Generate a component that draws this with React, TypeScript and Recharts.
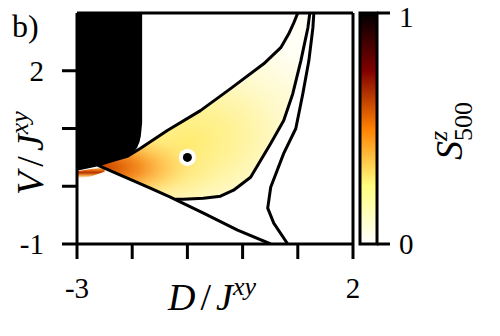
import React from 'react';
import {
  ComposedChart, Area, Line, Scatter, XAxis, YAxis, ReferenceLine,
  BarChart, Bar, Customized,
} from 'recharts';

// ---- axis ticks ----
const xTicks = [-3, -2, -1, 0, 1, 2];
const xTickLabels: Record<number, string> = { [-3]: '-3', 2: '2' };
const yTicks = [-1, 0, 1, 2];
const yTickLabels: Record<number, string> = { [-1]: '-1', 2: '2' };
const cbTicks = [0, 1];
const cbTickLabels: Record<number, string> = { 0: '0', 1: '1' };

// ---- black (S ~ 1) region: [low, high] of V for each D ----
const blackRegion = [
  { d: -3.0, v: [0.27, 3] },
  { d: -2.64, v: [0.34, 3] },
  { d: -2.4, v: [0.41, 3] },
  { d: -2.1, v: [0.52, 3] },
  { d: -1.95, v: [0.62, 3] },
  { d: -1.91, v: [0.67, 3] },
  { d: -1.87, v: [0.76, 3] },
  { d: -1.845, v: [0.86, 3] },
  { d: -1.83, v: [1.0, 3] },
  { d: -1.82, v: [1.1, 3] },
];

// ---- colored lens region ----
const lensRegion = [
  { d: -2.62, v: [0.36, 0.37] },
  { d: -2.4, v: [0.27, 0.43] },
  { d: -2.09, v: [0.14, 0.52] },
  { d: -1.855, v: [0.03, 0.655] },
  { d: -1.673, v: [-0.034, 0.77] },
  { d: -1.364, v: [-0.13, 0.966] },
  { d: -1.218, v: [-0.224, 1.05] },
  { d: -1.073, v: [-0.224, 1.13] },
  { d: -0.709, v: [-0.207, 1.345] },
  { d: -0.4, v: [-0.172, 1.54] },
  { d: -0.164, v: [-0.069, 1.69] },
  { d: 0.145, v: [0.155, 1.91] },
  { d: 0.509, v: [0.741, 2.23] },
  { d: 0.745, v: [1.138, 2.49] },
  { d: 0.909, v: [1.603, 2.79] },
  { d: 1.0, v: [1.96, 3] },
  { d: 1.055, v: [2.172, 3] },
  { d: 1.182, v: [2.741, 3] },
  { d: 1.218, v: [2.98, 3] },
];

// ---- thin strip at the left edge ----
const leftStrip = [
  { d: -3.0, v: [0.14, 0.26] },
  { d: -2.75, v: [0.17, 0.3] },
  { d: -2.5, v: [0.25, 0.33] },
];

// ---- phase boundaries ----
const upperCurve = [
  { d: -2.636, v: 0.362 },
  { d: -2.4, v: 0.431 },
  { d: -2.091, v: 0.517 },
  { d: -1.855, v: 0.655 },
  { d: -1.364, v: 0.966 },
  { d: -0.764, v: 1.31 },
  { d: -0.218, v: 1.69 },
  { d: 0.382, v: 2.12 },
  { d: 0.691, v: 2.4 },
  { d: 0.836, v: 2.64 },
  { d: 0.927, v: 2.83 },
  { d: 1.0, v: 3.0 },
];

const straightLine = [
  { d: -2.618, v: 0.362 },
  { d: -1.673, v: -0.034 },
  { d: -1.309, v: -0.19 },
  { d: -0.709, v: -0.466 },
  { d: -0.091, v: -0.759 },
  { d: 0.509, v: -1.0 },
];

const lensCurve = [
  { d: -1.218, v: -0.226 },
  { d: -1.073, v: -0.224 },
  { d: -0.709, v: -0.207 },
  { d: -0.4, v: -0.172 },
  { d: -0.164, v: -0.069 },
  { d: 0.145, v: 0.155 },
  { d: 0.509, v: 0.741 },
  { d: 0.745, v: 1.138 },
  { d: 0.909, v: 1.603 },
  { d: 1.055, v: 2.172 },
  { d: 1.182, v: 2.741 },
  { d: 1.218, v: 3.0 },
];

const outerCurve = [
  { d: 1.291, v: 3.0 },
  { d: 1.273, v: 2.741 },
  { d: 1.2, v: 2.172 },
  { d: 1.091, v: 1.603 },
  { d: 0.964, v: 1.0 },
  { d: 0.745, v: 0.569 },
  { d: 0.509, v: -0.017 },
  { d: 0.455, v: -0.379 },
  { d: 0.564, v: -0.638 },
  { d: 0.818, v: -1.0 },
];

const markedPoint = [{ d: -1, v: 0.5 }];
const colorbarData = [{ name: 'S', value: 1 }];

const FONT = "'Liberation Serif', 'DejaVu Serif', serif";
const TICK_SIZE = 29;
const LABEL_SIZE = 38;

const DotShape = (props: any) => (
  <g>
    <circle cx={props.cx} cy={props.cy} r={8.5} fill="#fff" />
    <circle cx={props.cx} cy={props.cy} r={4.5} fill="#000" />
  </g>
);

const Annotations = () => (
  <g fontFamily={FONT} fill="#000">
    <text x={12} y={37} fontSize={32}>b)</text>
    <text x={212} y={310} fontSize={LABEL_SIZE} textAnchor="middle">
      <tspan fontStyle="italic">D</tspan>
      <tspan dx={5}>/</tspan>
      <tspan dx={5} fontStyle="italic">J</tspan>
      <tspan fontStyle="italic" fontSize={26} dy={-15}>xy</tspan>
    </text>
    <text transform="translate(43,153) rotate(-90)" fontSize={LABEL_SIZE} textAnchor="middle">
      <tspan fontStyle="italic">V</tspan>
      <tspan dx={5}>/</tspan>
      <tspan dx={5} fontStyle="italic">J</tspan>
      <tspan fontStyle="italic" fontSize={26} dy={-15}>xy</tspan>
    </text>
  </g>
);

const CbLabel = () => (
  <g fontFamily={FONT} fill="#000">
    <text transform="translate(462,131) rotate(-90)" fontSize={LABEL_SIZE} textAnchor="middle">
      <tspan fontStyle="italic">S</tspan>
      <tspan fontStyle="italic" fontSize={26} dy={-15}>z</tspan>
      <tspan fontSize={26} dx={-10} dy={25}>500</tspan>
    </text>
  </g>
);

export default function App() {
  const lineProps = {
    dataKey: 'v',
    type: 'linear' as const,
    stroke: '#000',
    strokeWidth: 3,
    dot: false,
    activeDot: false,
    isAnimationActive: false,
    strokeLinejoin: 'round' as const,
  };
  return (
    <div style={{ position: 'absolute', left: 0, top: 0, width: 500, height: 336, background: '#fff' }}>
      <div style={{ position: 'absolute', left: 0, top: 0 }}>
        <ComposedChart width={500} height={336} margin={{ top: 13, right: 147, bottom: 32, left: 0 }}>
          <defs>
            <radialGradient id="lensBase" cx={0.42} cy={0.7} r={0.75} fx={0.42} fy={0.7}
              gradientTransform="translate(0.42 0.7) rotate(-20) scale(1 0.75) translate(-0.42 -0.7)">
              <stop offset="0" stopColor="#ffec70" />
              <stop offset="0.3" stopColor="#fff296" />
              <stop offset="0.6" stopColor="#fff9c8" />
              <stop offset="0.85" stopColor="#fffde6" />
              <stop offset="1" stopColor="#fffff6" />
            </radialGradient>
            <radialGradient id="lensHot" cx={0.0} cy={0.83} r={1} fx={0.0} fy={0.83}
              gradientTransform="translate(0 0.83) scale(1 0.42) translate(0 -0.83)">
              <stop offset="0" stopColor="#c03c00" stopOpacity={1} />
              <stop offset="0.1" stopColor="#e06408" stopOpacity={1} />
              <stop offset="0.2" stopColor="#f58a1c" stopOpacity={0.95} />
              <stop offset="0.32" stopColor="#ffb840" stopOpacity={0.7} />
              <stop offset="0.45" stopColor="#ffdc68" stopOpacity={0.3} />
              <stop offset="0.6" stopColor="#ffee88" stopOpacity={0} />
            </radialGradient>
            <linearGradient id="stripGrad" x1="0" y1="0" x2="0" y2="1">
              <stop offset="0" stopColor="#fff2c0" />
              <stop offset="0.25" stopColor="#e87010" />
              <stop offset="0.5" stopColor="#b83400" />
              <stop offset="0.75" stopColor="#f0a040" />
              <stop offset="1" stopColor="#ffffff" />
            </linearGradient>
          </defs>
          <XAxis
            dataKey="d"
            type="number"
            domain={[-3, 2]}
            ticks={xTicks}
            allowDataOverflow
            height={60}
            tickSize={15}
            tickMargin={18}
            tickFormatter={(v: number) => xTickLabels[v] ?? ''}
            tick={{ fontSize: TICK_SIZE, fontFamily: FONT, fill: '#000' }}
            tickLine={{ stroke: '#000', strokeWidth: 3 }}
            axisLine={{ stroke: '#000', strokeWidth: 3 }}
          />
          <YAxis
            type="number"
            domain={[-1, 3]}
            ticks={yTicks}
            allowDataOverflow
            width={77}
            tickSize={15}
            tickMargin={18}
            tickFormatter={(v: number) => yTickLabels[v] ?? ''}
            tick={{ fontSize: TICK_SIZE, fontFamily: FONT, fill: '#000' }}
            tickLine={{ stroke: '#000', strokeWidth: 3 }}
            axisLine={{ stroke: '#000', strokeWidth: 3 }}
          />
          <Area data={blackRegion} dataKey="v" type="linear" fill="#000" fillOpacity={1} stroke="none" isAnimationActive={false} activeDot={false} />
          <Area data={lensRegion} dataKey="v" type="linear" fill="url(#lensBase)" fillOpacity={1} stroke="none" isAnimationActive={false} activeDot={false} />
          <Area data={lensRegion} dataKey="v" type="linear" fill="url(#lensHot)" fillOpacity={1} stroke="none" isAnimationActive={false} activeDot={false} />
          <Area data={leftStrip} dataKey="v" type="linear" fill="url(#stripGrad)" fillOpacity={1} stroke="none" isAnimationActive={false} activeDot={false} />
          <Line data={upperCurve} {...lineProps} />
          <Line data={straightLine} {...lineProps} />
          <Line data={lensCurve} {...lineProps} />
          <Line data={outerCurve} {...lineProps} />
          <Scatter data={markedPoint} dataKey="v" shape={DotShape} isAnimationActive={false} />
          <ReferenceLine y={3} stroke="#000" strokeWidth={3} />
          <ReferenceLine x={2} stroke="#000" strokeWidth={3} />
          <Customized component={Annotations} />
        </ComposedChart>
      </div>
      <div style={{ position: 'absolute', left: 0, top: 0 }}>
        <BarChart width={500} height={336} data={colorbarData} margin={{ top: 13, right: 63, bottom: 92, left: 360 }} barCategoryGap={0}>
          <defs>
            <linearGradient id="cbGrad" x1="0" y1="0" x2="0" y2="1">
              <stop offset="0" stopColor="#000000" />
              <stop offset="0.25" stopColor="#800000" />
              <stop offset="0.5" stopColor="#ff8000" />
              <stop offset="0.75" stopColor="#ffff80" />
              <stop offset="1" stopColor="#ffffff" />
            </linearGradient>
          </defs>
          <XAxis dataKey="name" hide />
          <YAxis
            orientation="right"
            type="number"
            domain={[0, 1]}
            ticks={cbTicks}
            width={60}
            tickSize={13}
            tickMargin={9}
            tickFormatter={(v: number) => cbTickLabels[v] ?? ''}
            tick={{ fontSize: TICK_SIZE, fontFamily: FONT, fill: '#000' }}
            tickLine={{ stroke: '#000', strokeWidth: 3 }}
            axisLine={false}
          />
          <Bar dataKey="value" fill="url(#cbGrad)" stroke="#000" strokeWidth={3} isAnimationActive={false} />
          <Customized component={CbLabel} />
        </BarChart>
      </div>
    </div>
  );
}
